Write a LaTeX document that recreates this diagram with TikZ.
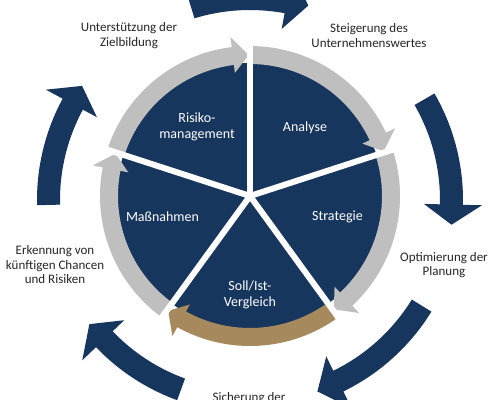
\documentclass[tikz,border=0pt]{standalone}
\usepackage{fontspec}
\setmainfont{Carlito}
\definecolor{darkb}{HTML}{17365D}
\definecolor{ringgray}{HTML}{BFBFBF}
\definecolor{ringtan}{HTML}{A68A5E}
\definecolor{labelgray}{HTML}{262626}
% #1 colour, #2 tail angle, #3 head base angle, #4 tip angle,
% #5 inner r, #6 outer r, #7 inner wing r, #8 outer wing r, #9 tip r
\newcommand{\curvedarrow}[9]{%
  \fill[#1] (#2:#6bp) arc[start angle=#2, end angle=#3, radius=#6bp]
    -- (#3:#8bp) -- (#4:#9bp) -- (#3:#7bp) -- (#3:#5bp)
    arc[start angle=#3, end angle=#2, radius=#5bp] -- cycle;}
\tikzset{
  inlabel/.style={text=white, align=center, inner sep=0pt,
    font=\fontsize{14bp}{16bp}\selectfont},
  outlabel/.style={text=labelgray, align=center, inner sep=0pt,
    font=\fontsize{13bp}{14.5bp}\selectfont},
  separator/.style={white, line width=6bp}
}
\begin{document}
\begin{tikzpicture}
\useasboundingbox (-250bp,-204bp) rectangle (245bp,196bp);
\clip (-250bp,-204bp) rectangle (245bp,196bp);
\fill[white] (-250bp,-204bp) rectangle (245bp,196bp);

% dark pie
\fill[darkb] (0,0) circle (133bp);

% inner ring arrows
\curvedarrow{ringgray}{162}{97}{90.5}{132}{150}{124}{160}{141}
\curvedarrow{ringgray}{90}{25}{18.5}{132}{150}{124}{160}{141}
\curvedarrow{ringgray}{18}{-47}{-53.5}{132}{150}{124}{160}{141}
\curvedarrow{ringtan}{-54}{-119}{-125.5}{132}{150}{124}{160}{141}
\curvedarrow{ringgray}{-126}{-191}{-197.5}{132}{150}{124}{160}{141}

% separators
\coordinate (c) at (0,0);
\foreach \a/\n in {90/s1,18/s2,-54/s3,-126/s4,162/s5}{
  \coordinate (\n) at (\a:165bp);
  \draw[separator] (c) -- (\n);
}

% outer arrows
\begin{scope}[shift={(0,-4bp)}]
\curvedarrow{darkb}{107}{79.5}{73.3}{190}{213}{174}{232}{203}
\curvedarrow{darkb}{30}{-1.3}{-7}{190}{213}{174}{232}{203}
\curvedarrow{darkb}{-31.6}{-64}{-70.6}{190}{213}{174}{232}{203}
\curvedarrow{darkb}{-110}{-136.3}{-142.3}{190}{213}{174}{232}{203}
\curvedarrow{darkb}{181.4}{151.6}{145.8}{190}{213}{174}{232}{203}
\end{scope}

% inner labels
\node[inlabel] (risk) at (-53bp,69.5bp) {Risiko-\\management};
\node[inlabel] (ana) at (55bp,68bp) {Analyse};
\node[inlabel] (strat) at (87.5bp,-21bp) {Strategie};
\node[inlabel] (mass) at (-87.5bp,-21bp) {Maßnahmen};
\node[inlabel] (soll) at (0bp,-98.5bp) {Soll/Ist-\\Vergleich};

% outer labels
\node[outlabel] (ziel) at (-121bp,160.5bp) {Unterstützung der\\Zielbildung};
\node[outlabel] (wert) at (119bp,160.5bp) {Steigerung des\\Unternehmenswertes};
\node[outlabel] (plan) at (194bp,-69bp) {Optimierung der\\Planung};
\node[outlabel] (chance) at (-195bp,-69bp) {Erkennung von\\künftigen Chancen\\und Risiken};
\node[outlabel, anchor=base] (sich) at (-1bp,-205bp) {Sicherung der};
\end{tikzpicture}
\end{document}
